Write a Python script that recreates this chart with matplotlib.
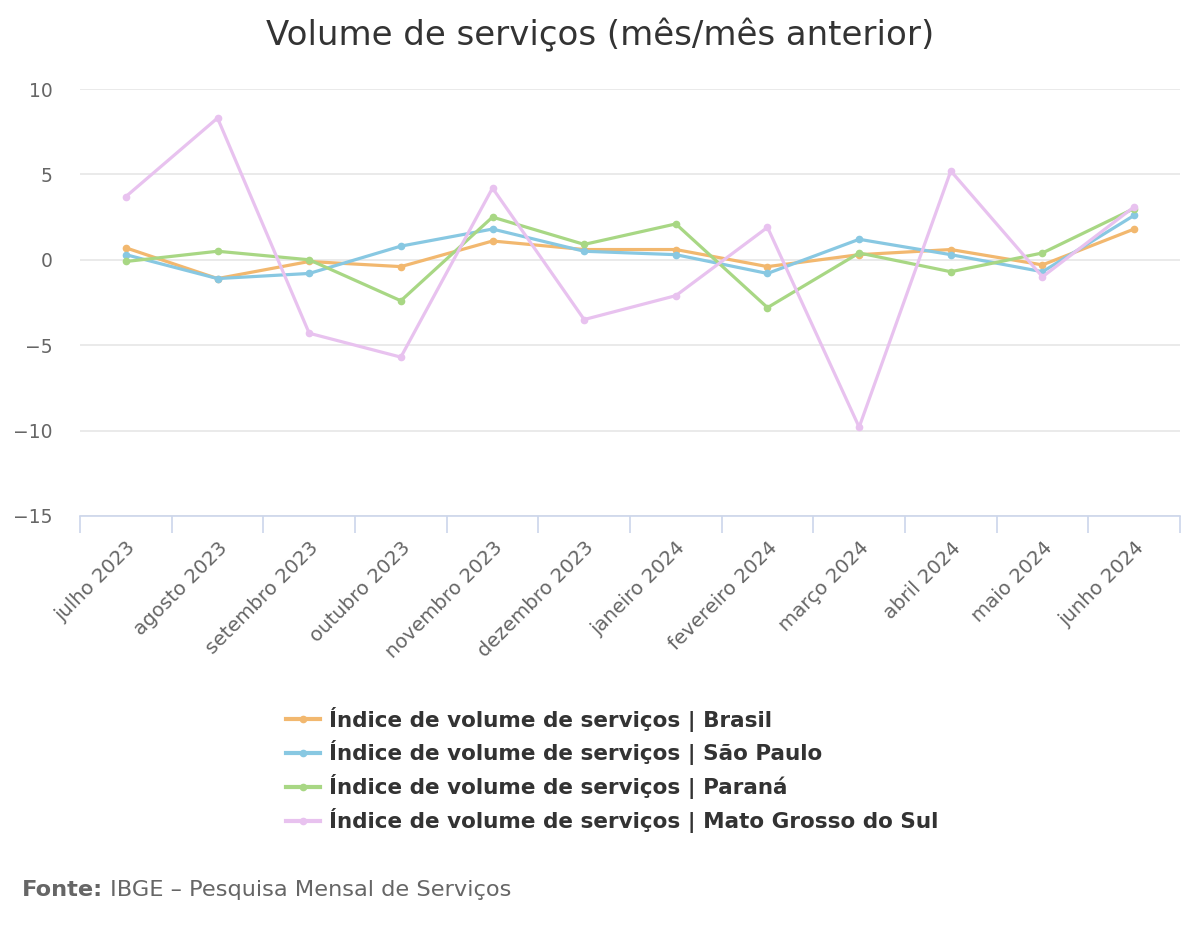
import matplotlib.pyplot as plt
import numpy as np

plt.rcParams['font.family'] = ['DejaVu Sans']

meses = ['julho 2023', 'agosto 2023', 'setembro 2023', 'outubro 2023',
         'novembro 2023', 'dezembro 2023', 'janeiro 2024', 'fevereiro 2024',
         'março 2024', 'abril 2024', 'maio 2024', 'junho 2024']

brasil = [0.7, -1.1, -0.1, -0.4, 1.1, 0.6, 0.6, -0.4, 0.3, 0.6, -0.3, 1.8]
sao_paulo = [0.3, -1.1, -0.8, 0.8, 1.8, 0.5, 0.3, -0.8, 1.2, 0.3, -0.7, 2.6]
parana = [-0.1, 0.5, 0.0, -2.4, 2.5, 0.9, 2.1, -2.8, 0.4, -0.7, 0.4, 3.0]
mato_grosso_sul = [3.7, 8.3, -4.3, -5.7, 4.2, -3.5, -2.1, 1.9, -9.8, 5.2, -1.0, 3.1]

series = [
    ('Índice de volume de serviços | Brasil', brasil, '#f2b86f'),
    ('Índice de volume de serviços | São Paulo', sao_paulo, '#88c8e2'),
    ('Índice de volume de serviços | Paraná', parana, '#a8d784'),
    ('Índice de volume de serviços | Mato Grosso do Sul', mato_grosso_sul, '#e8c2ef'),
]

fig = plt.figure(figsize=(12, 9.3), dpi=100)
ax = fig.add_axes([0.0667, 0.4452, 0.9166, 0.4591])

x = np.arange(len(meses))
for label, vals, color in series:
    ax.plot(x, vals, color=color, linewidth=2.3, marker='o', markersize=4.5,
            label=label, solid_joinstyle='round')

ax.set_xlim(-0.5, len(meses) - 0.5)
ax.set_ylim(-15, 10)
ax.set_yticks([-15, -10, -5, 0, 5, 10])
ax.set_yticklabels(['−15', '−10', '−5', '0', '5', '10'])
ax.grid(axis='y', color='#e6e6e6', linewidth=1.2)
ax.set_axisbelow(True)

for s in ['top', 'right', 'left']:
    ax.spines[s].set_visible(False)
ax.spines['bottom'].set_color('#ccd6eb')
ax.spines['bottom'].set_linewidth(1.2)

ax.set_xticks(x)
ax.set_xticklabels(meses, rotation=45, ha='right', rotation_mode='anchor',
                   fontsize=14.2, color='#666666')
ax.set_xticks(np.arange(len(meses) + 1) - 0.5, minor=True)
ax.tick_params(axis='x', which='major', length=0, pad=16)
ax.tick_params(axis='x', which='minor', length=12, color='#ccd6eb', width=1.2)
ax.tick_params(axis='y', length=0, labelsize=13.5, labelcolor='#666666', pad=20)

fig.text(0.5, 0.962, 'Volume de serviços (mês/mês anterior)', ha='center',
         va='center', fontsize=24.5, color='#333333')

leg = fig.legend(loc='upper center', bbox_to_anchor=(0.51, 0.2495), frameon=False,
                 prop={'weight': 'bold', 'size': 15.5}, labelcolor='#333333',
                 handlelength=1.6, handletextpad=0.4, labelspacing=0.41,
                 borderaxespad=0)
for ln in leg.get_lines():
    ln.set_linewidth(3)

fonte = fig.text(0.018, 0.043, 'Fonte:', fontsize=16.2, color='#666666',
                 fontweight='bold', va='center')
fig.canvas.draw()
bb = fonte.get_window_extent().transformed(fig.transFigure.inverted())
fig.text(bb.x1 + 0.006, 0.043, 'IBGE – Pesquisa Mensal de Serviços', fontsize=16.2,
         color='#666666', va='center')

plt.savefig('out.png', dpi=100)
